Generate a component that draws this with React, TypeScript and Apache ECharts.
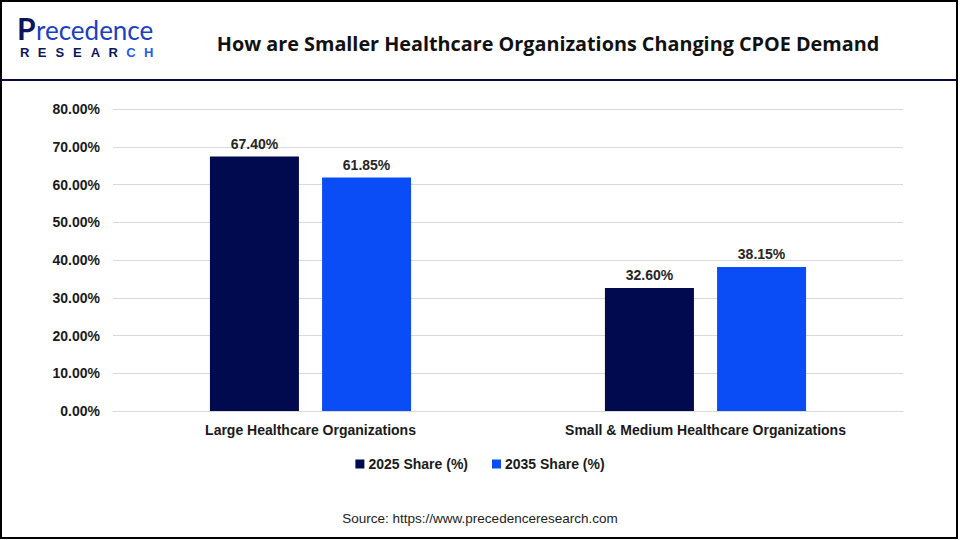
import React, { useEffect, useRef } from "react";
import * as echarts from "echarts";

const categories = ["Large Healthcare Organizations", "Small & Medium Healthcare Organizations"];
const seriesNames = ["2025 Share (%)", "2035 Share (%)"];
const share2025 = [67.4, 32.6];
const share2035 = [61.85, 38.15];
const colors = ["#010a4e", "#0a4cf6"];
const titleText = "How are Smaller Healthcare Organizations Changing CPOE Demand";
const sourceText = "Source: https://www.precedenceresearch.com";
const logoSub = "RESEARCH";

export default function App() {
  const ref = useRef<HTMLDivElement>(null);
  useEffect(() => {
    document.body.style.margin = "0";
    if (!ref.current) return;
    const chart = echarts.init(ref.current, undefined, { renderer: "svg" });
    const labelStyle = {
      show: true,
      position: "top" as const,
      distance: 6,
      fontFamily: "Liberation Sans, Arial, sans-serif",
      fontWeight: "bold" as const,
      fontSize: 14,
      color: "#262626",
      formatter: (p: any) => p.value.toFixed(2) + "%",
    };
    const subLetters = logoSub.split("").map((ch, i) => ({
      type: "text",
      silent: true,
      x: 20 + i * 17.7,
      y: 46,
      style: {
        text: ch,
        textVerticalAlign: "top",
        fontFamily: "Liberation Sans, Arial, sans-serif",
        fontWeight: "bold",
        fontSize: 13,
        fill: i >= 6 ? "#1f5ee8" : "#0b1560",
      },
    }));
    chart.setOption({
      animation: false,
      backgroundColor: "#ffffff",
      title: {
        text: titleText,
        left: 543,
        top: 28,
        textAlign: "center",
        textStyle: {
          fontFamily: "Open Sans, Noto Sans, sans-serif",
          fontWeight: "bold",
          fontSize: 19.8,
          color: "#111111",
        },
      },
      legend: {
        data: seriesNames,
        left: "center",
        top: 452,
        itemWidth: 9,
        itemHeight: 9,
        itemGap: 24,
        icon: "rect",
        textStyle: {
          fontFamily: "Liberation Sans, Arial, sans-serif",
          fontWeight: "bold",
          fontSize: 14,
          color: "#1a1a1a",
          padding: [0, 0, 0, -1],
        },
      },
      grid: { left: 113, right: 57, top: 109, bottom: 129, containLabel: false },
      xAxis: {
        type: "category",
        data: categories,
        axisLine: { show: true, lineStyle: { color: "#d9d9d9", width: 1 } },
        axisTick: { show: false },
        axisLabel: {
          margin: 12,
          fontFamily: "Liberation Sans, Arial, sans-serif",
          fontWeight: "bold",
          fontSize: 14,
          color: "#1a1a1a",
        },
      },
      yAxis: {
        type: "value",
        min: 0,
        max: 80,
        interval: 10,
        axisLine: { show: false },
        axisTick: { show: false },
        splitLine: { lineStyle: { color: "#d9d9d9", width: 1 } },
        axisLabel: {
          margin: 13,
          fontFamily: "Liberation Sans, Arial, sans-serif",
          fontWeight: "bold",
          fontSize: 14,
          color: "#1a1a1a",
          formatter: (v: number) => v.toFixed(2) + "%",
        },
      },
      series: [
        {
          name: seriesNames[0],
          type: "bar",
          data: share2025,
          barWidth: 89,
          barGap: "26%",
          itemStyle: { color: colors[0] },
          label: labelStyle,
        },
        {
          name: seriesNames[1],
          type: "bar",
          data: share2035,
          barWidth: 89,
          barGap: "26%",
          itemStyle: { color: colors[1] },
          label: labelStyle,
        },
      ],
      graphic: [
        {
          type: "rect",
          silent: true,
          shape: { x: 1, y: 1, width: 956, height: 537 },
          style: { fill: "none", stroke: "#000000", lineWidth: 2 },
        },
        {
          type: "line",
          silent: true,
          shape: { x1: 1, y1: 80, x2: 957, y2: 80 },
          style: { stroke: "#0b0b3b", lineWidth: 2 },
        },
        {
          type: "text",
          silent: true,
          x: 17,
          y: 43,
          style: {
            text: "P",
            textVerticalAlign: "bottom",
            fontFamily: "Lato, Inter, sans-serif",
            fontWeight: "bold",
            fontSize: 30,
            fill: "#0b1560",
          },
        },
        {
          type: "text",
          silent: true,
          x: 36,
          y: 43,
          style: {
            text: "recedence",
            textVerticalAlign: "bottom",
            fontFamily: "Lato, Inter, sans-serif",
            fontWeight: "normal",
            fontSize: 26,
            fill: "#1a3fc0",
          },
        },
        ...subLetters,
        {
          type: "text",
          silent: true,
          x: 480,
          y: 518,
          style: {
            text: sourceText,
            textAlign: "center",
            textVerticalAlign: "middle",
            fontFamily: "Liberation Sans, Arial, sans-serif",
            fontSize: 13.5,
            fill: "#222222",
          },
        },
      ],
    });
    return () => chart.dispose();
  }, []);
  return <div ref={ref} style={{ width: 960, height: 540 }} />;
}
